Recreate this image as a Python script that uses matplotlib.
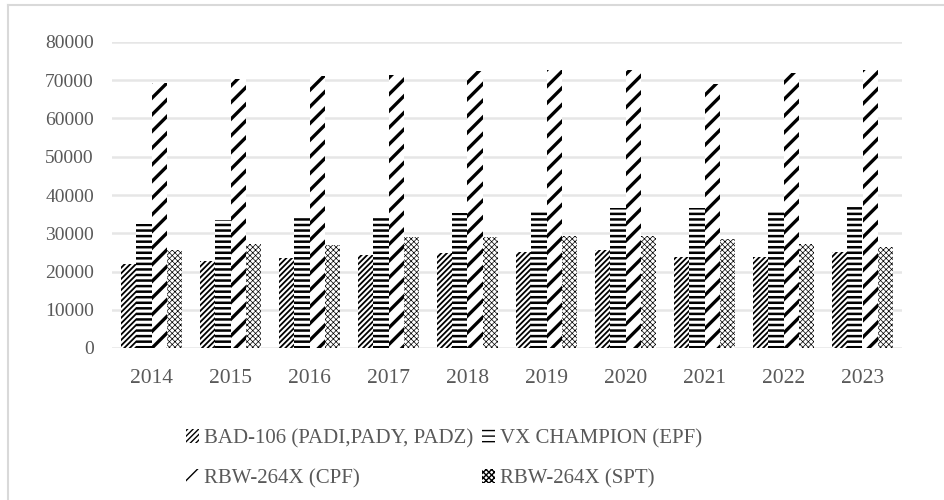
import numpy as np
import matplotlib
matplotlib.use('Agg')
import matplotlib.pyplot as plt
from matplotlib.lines import Line2D

# values
years = ['2014', '2015', '2016', '2017', '2018', '2019', '2020', '2021', '2022', '2023']
bad_106 = [21900, 22700, 23400, 24300, 24900, 25000, 25600, 23800, 23800, 25200]
vx_champion = [32500, 33500, 34500, 34600, 35400, 36100, 36500, 36500, 36100, 37100]
rbw_cpf = [69200, 70200, 71000, 71500, 72300, 72800, 72800, 68900, 71800, 72800]
rbw_spt = [25700, 27300, 27000, 28900, 28900, 29400, 29400, 28400, 27300, 26500]

labels = ['BAD-106 (PADI,PADY, PADZ)', 'VX CHAMPION (EPF)',
          'RBW-264X (CPF)', 'RBW-264X (SPT)']
series = [bad_106, vx_champion, rbw_cpf, rbw_spt]
hatches = ['//////', '---', '//', 'xxxxxx']
hatch_lw = [1.3, 1.8, 2.4, 0.5]

plt.rcParams['font.family'] = ['Liberation Serif', 'DejaVu Serif']
text_color = '#595959'

fig = plt.figure(figsize=(9.44, 5.0), dpi=100)
ax = fig.add_axes([112 / 944, 1 - 348 / 500, 790 / 944, 306 / 500])

x = np.arange(len(years))
w = 0.19
handles = []
for i, (vals, lab, h, lw) in enumerate(zip(series, labels, hatches, hatch_lw)):
    with plt.rc_context({'hatch.linewidth': lw, 'hatch.color': 'black'}):
        bars = ax.bar(x + (i - 1.5) * w, vals, w, facecolor='white',
                      edgecolor='black', linewidth=0, hatch=h, label=lab,
                      zorder=3)
    handles.append(bars)

ax.set_xlim(-0.5, len(years) - 0.5)
ax.set_ylim(0, 80000)
ax.set_yticks(np.arange(0, 80001, 10000))
ax.set_xticks(x)
ax.set_xticklabels(years)
ax.tick_params(axis='x', length=0, pad=15, labelsize=15.5, labelcolor=text_color)
ax.tick_params(axis='y', length=0, pad=13, labelsize=14, labelcolor=text_color)
ax.grid(axis='y', color='#e6e6e6', linewidth=1.8, zorder=0)
for s in ax.spines.values():
    s.set_visible(False)

# legend fills row by row: BAD, VX / CPF, SPT
order = [0, 2, 1, 3]
leg = fig.legend(handles=[handles[k] for k in order], labels=[labels[k] for k in order],
                 ncol=2, loc='upper left', bbox_to_anchor=(186 / 944, 1 - 429 / 500),
                 frameon=False, fontsize=15, handlelength=0.6, handleheight=0.6,
                 handletextpad=0.25, columnspacing=0.45, labelspacing=1.0,
                 borderaxespad=0, borderpad=0)
for t in leg.get_texts():
    t.set_color(text_color)

# light frame around the chart
fig.add_artist(Line2D([8 / 944, 8 / 944], [0, 1 - 5 / 500], transform=fig.transFigure,
                      color='#d9d9d9', linewidth=1.5))
fig.add_artist(Line2D([8 / 944, 1], [1 - 5 / 500, 1 - 5 / 500], transform=fig.transFigure,
                      color='#d9d9d9', linewidth=1.5))

fig.savefig('out.png', dpi=100)
